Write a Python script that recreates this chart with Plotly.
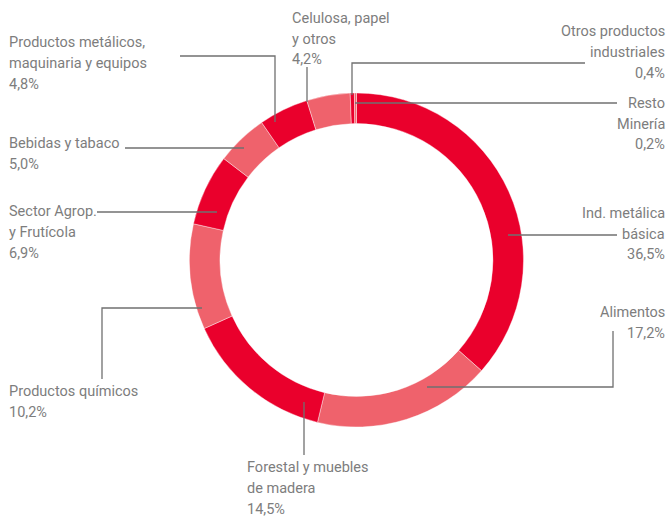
import plotly.graph_objects as go

W, H = 670, 517

# Data
categories = [
    "Ind. metálica básica", "Alimentos", "Forestal y muebles de madera",
    "Productos químicos", "Sector Agrop. y Frutícola", "Bebidas y tabaco",
    "Productos metálicos, maquinaria y equipos", "Celulosa, papel y otros",
    "Otros productos industriales", "Resto Minería",
]
values = [36.5, 17.2, 14.5, 10.2, 6.9, 5.0, 4.8, 4.2, 0.4, 0.2]
label_lines = [
    ["Ind. metálica", "básica"],
    ["Alimentos"],
    ["Forestal y muebles", "de madera"],
    ["Productos químicos"],
    ["Sector Agrop.", "y Frutícola"],
    ["Bebidas y tabaco"],
    ["Productos metálicos,", "maquinaria y equipos"],
    ["Celulosa, papel", "y otros"],
    ["Otros productos", "industriales"],
    ["Resto", "Minería"],
]

DARK = "#EA002C"
LIGHT = "#EF626C"
colors = [DARK if i % 2 == 0 else LIGHT for i in range(len(values))]

TEXT = "#7d7d7d"
LINE = "#707070"
FONT = "Roboto"
FS = 14.5
LH = 20.8

def px(x):
    return x / W

def py(y):
    return 1 - y / H

fig = go.Figure(go.Pie(
    labels=categories, values=values, sort=False, direction="clockwise",
    rotation=0, hole=0.817, textinfo="none", hoverinfo="label+percent",
    marker=dict(colors=colors, line=dict(color="white", width=0.4)),
    domain=dict(x=[px(189.5), px(523.5)], y=[py(427), py(93)]),
    showlegend=False,
))

# label layout: (x, first line center y, anchor)
label_pos = [
    (667, 213.3, "right"),
    (667, 312.3, "right"),
    (245, 467.7, "left"),
    (7, 391.7, "left"),
    (7, 211.7, "left"),
    (7, 143.3, "left"),
    (7, 42.7, "left"),
    (290, 18.3, "left"),
    (667, 31.7, "right"),
    (667, 103.3, "right"),
]

annotations = []
for lines, v, (x, y0, anc) in zip(label_lines, values, label_pos):
    all_lines = lines + [f"{v:.1f}%".replace(".", ",")]
    for k, t in enumerate(all_lines):
        annotations.append(dict(
            x=px(x), y=py(y0 + k * LH), xref="paper", yref="paper",
            text=t, showarrow=False, xanchor=anc, yanchor="middle",
            font=dict(family=FONT, size=FS, color=TEXT),
        ))

leaders = [
    [(508, 235), (617, 235)],
    [(427, 387), (613, 387), (613, 331)],
    [(304, 402), (304, 455)],
    [(202, 308), (102, 308), (102, 379)],
    [(97, 212), (217, 212)],
    [(125, 148), (244, 148)],
    [(180, 56), (275, 56), (275, 122)],
    [(307, 102), (307, 67)],
    [(352, 95), (352, 63), (585, 63)],
    [(355, 103), (617, 103)],
]

shapes = []
for pts in leaders:
    path = "M " + " L ".join(f"{px(a):.5f},{py(b):.5f}" for a, b in pts)
    shapes.append(dict(type="path", path=path, xref="paper", yref="paper",
                       line=dict(color=LINE, width=1.3)))

fig.update_layout(
    width=W, height=H, margin=dict(l=0, r=0, t=0, b=0),
    paper_bgcolor="white", plot_bgcolor="white",
    annotations=annotations, shapes=shapes,
)

fig.write_html(
    "out.html",
    config={"displayModeBar": False},
    post_script="document.body.style.margin='0';document.body.style.overflow='hidden';",
)
